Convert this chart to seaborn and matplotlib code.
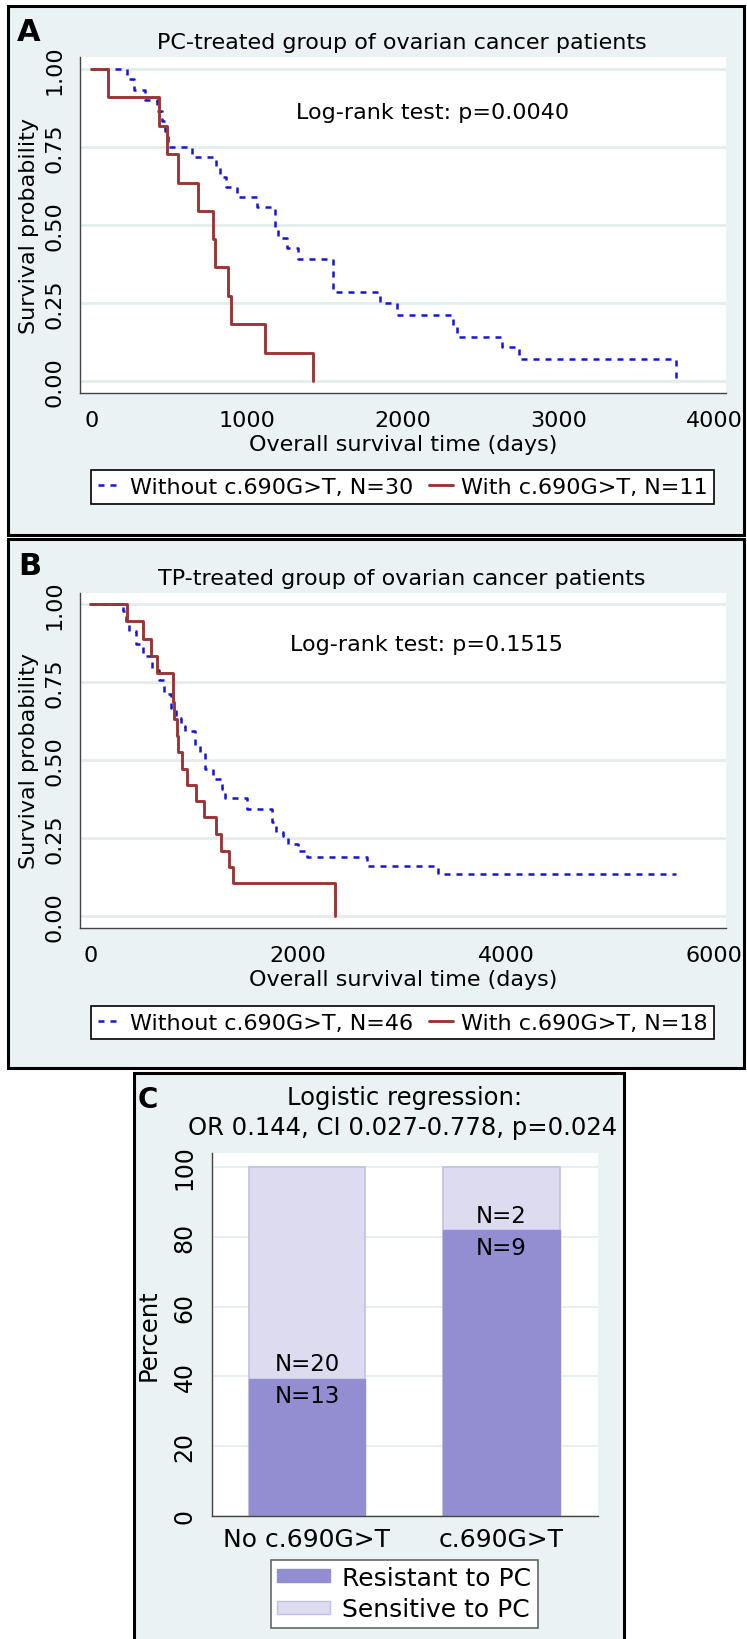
import numpy as np
import pandas as pd
import matplotlib
matplotlib.use("Agg")
import matplotlib.pyplot as plt
from matplotlib.patches import Rectangle, Patch
from matplotlib.lines import Line2D
import seaborn as sns

# ---- data ----
# Panel A: PC-treated group (Kaplan-Meier steps)
pc_without_days = [0, 231, 276, 344, 419, 452, 473, 490, 648, 798, 826, 863, 933,
                   1062, 1180, 1200, 1255, 1330, 1554, 1854, 1961, 2320, 2349,
                   2639, 2746, 3755]
pc_without_surv = [1.0, 0.967, 0.933, 0.900, 0.867, 0.833, 0.800, 0.750, 0.717,
                   0.686, 0.655, 0.623, 0.589, 0.557, 0.490, 0.457, 0.426, 0.391,
                   0.284, 0.249, 0.212, 0.179, 0.141, 0.108, 0.070, 0.0]
pc_with_days = [0, 105, 432, 484, 554, 687, 783, 792, 880, 897, 1115, 1426]
pc_with_surv = [1.0, 0.909, 0.818, 0.727, 0.636, 0.545, 0.455, 0.364, 0.273,
                0.182, 0.091, 0.0]

# Panel B: TP-treated group
tp_without_days = [0, 312, 340, 367, 435, 504, 596, 664, 710, 779, 825, 870, 909,
                   1006, 1054, 1102, 1182, 1262, 1294, 1503, 1743, 1790, 1855,
                   1904, 2000, 2080, 2658, 3344, 5634]
tp_without_surv = [1.0, 0.978, 0.935, 0.913, 0.870, 0.832, 0.788, 0.755, 0.710,
                   0.667, 0.633, 0.610, 0.594, 0.546, 0.525, 0.471, 0.439, 0.407,
                   0.378, 0.343, 0.302, 0.268, 0.257, 0.231, 0.209, 0.188, 0.161,
                   0.133, 0.133]
tp_with_days = [0, 348, 502, 579, 637, 797, 803, 836, 840, 877, 926, 1012, 1095,
                1205, 1256, 1333, 1374, 2353]
tp_with_surv = [1.0, 0.944, 0.889, 0.833, 0.778, 0.685, 0.631, 0.578, 0.525,
                0.471, 0.420, 0.368, 0.316, 0.263, 0.209, 0.156, 0.105, 0.0]

# Panel C: response to PC
genotype = ["No c.690G>T", "c.690G>T"]
n_resistant = [13, 9]
n_sensitive = [20, 2]

# ---- styling ----
W, H = 747, 1640
BG = "#eaf2f3"
GRID = "#e4eced"
BLUE = "#1414dc"
RED = "#9b3636"
DARK = "#938dd2"
LIGHT = "#dddbf0"
EDGE = "#c3bfe8"
SPINE = "#444444"

sns.set_theme(style="white")
plt.rcParams["font.family"] = ["DejaVu Sans"]
plt.rcParams["text.color"] = "black"
plt.rcParams["axes.labelcolor"] = "black"
plt.rcParams["xtick.color"] = "black"
plt.rcParams["ytick.color"] = "black"


def fx(x):
    return x / W


def fy(y):
    return 1 - y / H


fig = plt.figure(figsize=(W / 100, H / 100), dpi=100)
fig.patch.set_facecolor("white")

# panel frames
for (x0, y0, x1, y1) in [(8, 7, 744, 536), (8, 540, 744, 1069), (134, 1074, 624, 1660)]:
    fig.add_artist(Rectangle((fx(x0), fy(y1)), fx(x1 - x0), (y1 - y0) / H,
                             transform=fig.transFigure, facecolor=BG,
                             edgecolor="black", linewidth=2.2, zorder=-5))


def style_axes(ax, fs):
    ax.set_facecolor("white")
    for s in ["top", "right"]:
        ax.spines[s].set_visible(False)
    for s in ["left", "bottom"]:
        ax.spines[s].set_color(SPINE)
        ax.spines[s].set_linewidth(1.0)
    ax.yaxis.grid(True, color=GRID, linewidth=2)
    ax.xaxis.grid(False)
    ax.set_axisbelow(True)
    ax.tick_params(axis="both", colors=SPINE, labelcolor="black", labelsize=fs,
                   length=5, width=1, direction="out")
    ax.tick_params(axis="y", labelrotation=90, pad=4)
    for lab in ax.get_yticklabels():
        lab.set_va("center")


def km_panel(ax, d_without, s_without, d_with, s_with, xmax_tick, xstep, xlim,
             ylim, lab_without, lab_with, legend_y):
    df = pd.concat([
        pd.DataFrame({"days": d_without, "surv": s_without, "group": "Without"}),
        pd.DataFrame({"days": d_with, "surv": s_with, "group": "With"}),
    ])
    sns.lineplot(data=df, x="days", y="surv", hue="group", style="group",
                 palette={"Without": BLUE, "With": RED},
                 dashes={"Without": (2.4, 2.4), "With": ""},
                 size="group", sizes={"Without": 1.8, "With": 2.1},
                 drawstyle="steps-post", estimator=None, sort=False,
                 legend=False, ax=ax)
    ax.set_xlim(*xlim)
    ax.set_ylim(*ylim)
    ax.set_xticks(np.arange(0, xmax_tick + 1, xstep))
    ax.set_yticks([0, 0.25, 0.5, 0.75, 1.0], ["0.00", "0.25", "0.50", "0.75", "1.00"])
    style_axes(ax, 16)
    ax.tick_params(axis="x", pad=6, length=6)
    ax.tick_params(axis="y", pad=5, length=6)
    ax.set_xlabel("Overall survival time (days)", fontsize=16, labelpad=3)
    ax.set_ylabel("Survival probability", fontsize=16, labelpad=4)

    handles = [Line2D([], [], color=BLUE, lw=1.8, dashes=(2.4, 2.4)),
               Line2D([], [], color=RED, lw=2.1)]
    leg = fig.legend(handles, [lab_without, lab_with], ncol=2, loc="center",
                     bbox_to_anchor=(fx(402.5), fy(legend_y)), fontsize=16,
                     frameon=True, fancybox=False, framealpha=1, edgecolor="black",
                     handlelength=1.1, handletextpad=0.35, columnspacing=0.7,
                     borderpad=0.3, borderaxespad=0)
    leg.get_frame().set_linewidth(1.2)


# ---- Panel A ----
axA = fig.add_axes([fx(80), fy(394), fx(646), 336 / H])
km_panel(axA, pc_without_days, pc_without_surv, pc_with_days, pc_with_surv,
         4000, 1000, (-73, 4076), (-0.0385, 1.0385),
         "Without c.690G>T, N=30", "With c.690G>T, N=11", 488)
fig.text(fx(17), fy(40.7), "A", fontsize=22, fontweight="bold", va="baseline")
fig.text(fx(402), fy(49), "PC-treated group of ovarian cancer patients",
         fontsize=16, ha="center", va="baseline")
fig.text(fx(433), fy(119), "Log-rank test: p=0.0040", fontsize=16,
         ha="center", va="baseline")

# ---- Panel B ----
axB = fig.add_axes([fx(80), fy(929), fx(646), 335 / H])
km_panel(axB, tp_without_days, tp_without_surv, tp_with_days, tp_with_surv,
         6000, 2000, (-101, 6116), (-0.0385, 1.035),
         "Without c.690G>T, N=46", "With c.690G>T, N=18", 1023.5)
fig.text(fx(18), fy(575), "B", fontsize=22, fontweight="bold", va="baseline")
fig.text(fx(402), fy(585), "TP-treated group of ovarian cancer patients",
         fontsize=16, ha="center", va="baseline")
fig.text(fx(426), fy(651), "Log-rank test: p=0.1515", fontsize=16,
         ha="center", va="baseline")

# ---- Panel C ----
totals = [r + s for r, s in zip(n_resistant, n_sensitive)]
resist_pct = [100 * r / t for r, t in zip(n_resistant, totals)]
dfC = pd.DataFrame({"genotype": genotype, "total": [100.0, 100.0],
                    "resistant": resist_pct})

axC = fig.add_axes([fx(212), fy(1517), fx(386), 363 / H])
sns.barplot(data=dfC, x="genotype", y="total", color=LIGHT, edgecolor=EDGE,
            linewidth=1.2, width=0.6, saturation=1, errorbar=None, ax=axC)
sns.barplot(data=dfC, x="genotype", y="resistant", color=DARK, edgecolor=DARK,
            linewidth=1.0, width=0.6, saturation=1, errorbar=None, ax=axC)
axC.set_xlim(-0.488, 1.496)
axC.set_ylim(0, 104)
axC.set_yticks([0, 20, 40, 60, 80, 100])
style_axes(axC, 17)
axC.yaxis.grid(True, color=GRID, linewidth=1.2)
axC.tick_params(axis="y", pad=6, length=5)
axC.tick_params(axis="x", length=0, pad=8, labelsize=18)
axC.set_xlabel("")
axC.set_ylabel("Percent", fontsize=17.5, labelpad=9)

for i in range(len(genotype)):
    axC.annotate(f"N={n_sensitive[i]}", xy=(i, resist_pct[i]), xytext=(0, 11),
                 textcoords="offset points", ha="center", va="center", fontsize=16.5)
    axC.annotate(f"N={n_resistant[i]}", xy=(i, resist_pct[i]), xytext=(0, -12),
                 textcoords="offset points", ha="center", va="center", fontsize=16.5)

fig.text(fx(148), fy(1108), "C", fontsize=20, fontweight="bold", va="baseline",
         ha="center")
fig.text(fx(405), fy(1105), "Logistic regression:", fontsize=17.5, ha="center",
         va="baseline")
fig.text(fx(403), fy(1135), "OR 0.144, CI 0.027-0.778, p=0.024", fontsize=17.5,
         ha="center", va="baseline")

legC = fig.legend([Patch(facecolor=DARK, edgecolor=DARK),
                   Patch(facecolor=LIGHT, edgecolor=EDGE)],
                  ["Resistant to PC", "Sensitive to PC"], loc="center",
                  bbox_to_anchor=(fx(404.5), fy(1594.5)), fontsize=18,
                  frameon=True, fancybox=False, framealpha=1, edgecolor="#666666",
                  handlelength=2.1, handleheight=0.42, handletextpad=0.5,
                  labelspacing=0.3, borderpad=0.25, borderaxespad=0)
legC.get_frame().set_linewidth(1.2)

fig.savefig("out.png", dpi=100)
